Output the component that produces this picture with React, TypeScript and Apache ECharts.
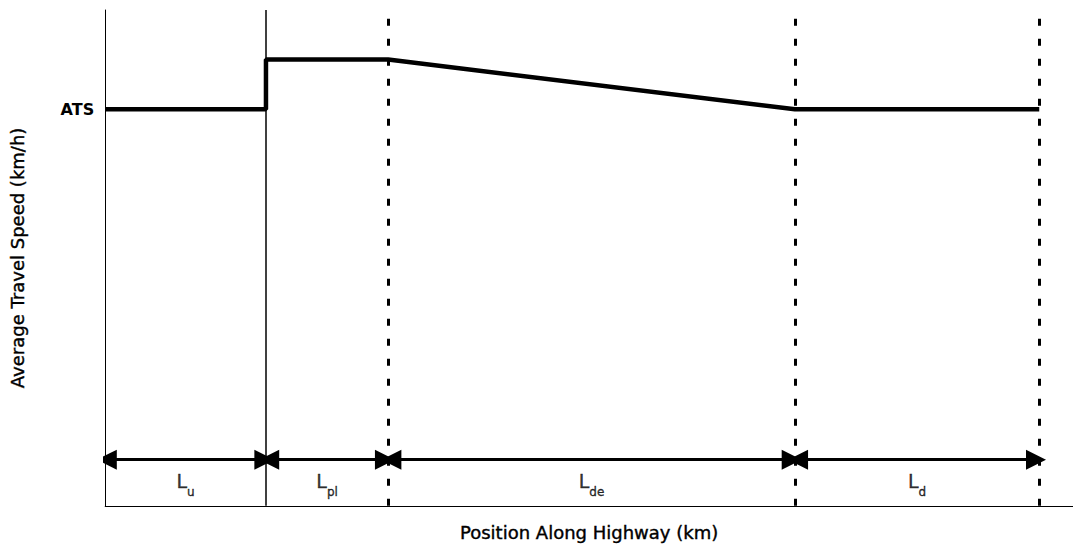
import React, { useEffect, useRef } from "react";
import * as echarts from "echarts";

// Positions along highway (km) of section boundaries
const boundaries = [0, 1.0, 1.76, 4.29, 5.81];
const xMax = 6.02;
// Speed profile (position km, speed index)
const speedProfile: [number, number][] = [
  [0, 80],
  [1.0, 80],
  [1.0, 90],
  [1.76, 90],
  [4.29, 80],
  [5.81, 80],
];
const atsValue = 80;
const solidLines = [1.0];
const dottedLines = [1.76, 4.29, 5.81];
const segmentNames = ["u", "pl", "de", "d"];
const arrowStarts = [0.01, 1.02, 1.78, 4.31];
const arrowEnds = [0.99, 1.74, 4.27, 5.79];
const arrowLevel = 9.3;
const labelLevel = 4.2;

export default function App() {
  const ref = useRef<HTMLDivElement>(null);
  useEffect(() => {
    if (!ref.current) return;
    const chart = echarts.init(ref.current, null, { renderer: "svg" });
    const font = "'DejaVu Sans', 'Liberation Sans', Arial, sans-serif";
    const thick = { textBorderColor: "#000", textBorderWidth: 0.4 };
    const arrows = arrowStarts.map((s, i) => ({
      coords: [
        [s, arrowLevel],
        [arrowEnds[i], arrowLevel],
      ],
    }));
    const labels = segmentNames.map((n, i) => ({
      value: [(boundaries[i] + boundaries[i + 1]) / 2, labelLevel],
      label: { formatter: `{a|L}{b|${n}}` },
    }));
    chart.setOption({
      animation: false,
      backgroundColor: "#ffffff",
      grid: { left: 98, right: 0, top: 10, bottom: 32 },
      xAxis: {
        type: "value",
        min: 0,
        max: xMax,
        name: "Position Along Highway (km)",
        nameLocation: "middle",
        nameGap: 18,
        nameTextStyle: { fontFamily: font, fontSize: 18, color: "#000", ...thick },
        axisLine: { show: true, lineStyle: { color: "#000", width: 1 } },
        axisTick: { show: false },
        axisLabel: { show: false },
        splitLine: { show: false },
      },
      yAxis: {
        type: "value",
        min: 0,
        max: 100,
        interval: 10,
        name: "Average Travel Speed (km/h)",
        nameLocation: "middle",
        nameGap: 79,
        nameTextStyle: { fontFamily: font, fontSize: 18, color: "#000", ...thick },
        axisLine: { show: true, lineStyle: { color: "#000", width: 1 } },
        axisTick: { show: false },
        axisLabel: {
          show: true,
          margin: 11,
          fontFamily: font,
          fontSize: 16,
          fontWeight: "bold",
          color: "#000",
          formatter: (v: number) => (v === atsValue ? "ATS" : ""),
        },
        splitLine: { show: false },
      },
      series: [
        {
          type: "line",
          data: speedProfile,
          symbol: "none",
          lineStyle: { color: "#000", width: 4.5 },
          z: 5,
          markLine: {
            silent: true,
            symbol: "none",
            label: { show: false },
            data: [
              ...solidLines.map((x) => ({
                xAxis: x,
                lineStyle: { color: "#000", width: 1.5, type: "solid" },
              })),
              ...dottedLines.map((x) => ({
                xAxis: x,
                lineStyle: { color: "#000", width: 3, type: [7, 13] },
              })),
            ],
          },
        },
        {
          type: "lines",
          coordinateSystem: "cartesian2d",
          symbol: ["triangle", "triangle"],
          symbolSize: 20,
          lineStyle: { color: "#000", width: 3, opacity: 1, curveness: 0 },
          data: arrows,
          z: 6,
        },
        {
          type: "scatter",
          symbolSize: 0,
          data: labels,
          label: {
            show: true,
            position: "inside",
            color: "#000",
            rich: {
              a: { fontFamily: font, fontSize: 19, color: "#000", lineHeight: 24, verticalAlign: "top", ...thick },
              b: { fontFamily: font, fontSize: 12, color: "#000", lineHeight: 27, verticalAlign: "bottom", ...thick },
            },
          },
        },
      ],
    });
    return () => chart.dispose();
  }, []);
  return (
    <div
      ref={ref}
      style={{ position: "fixed", left: 0, top: 0, width: 1073, height: 547, background: "#fff" }}
    />
  );
}
